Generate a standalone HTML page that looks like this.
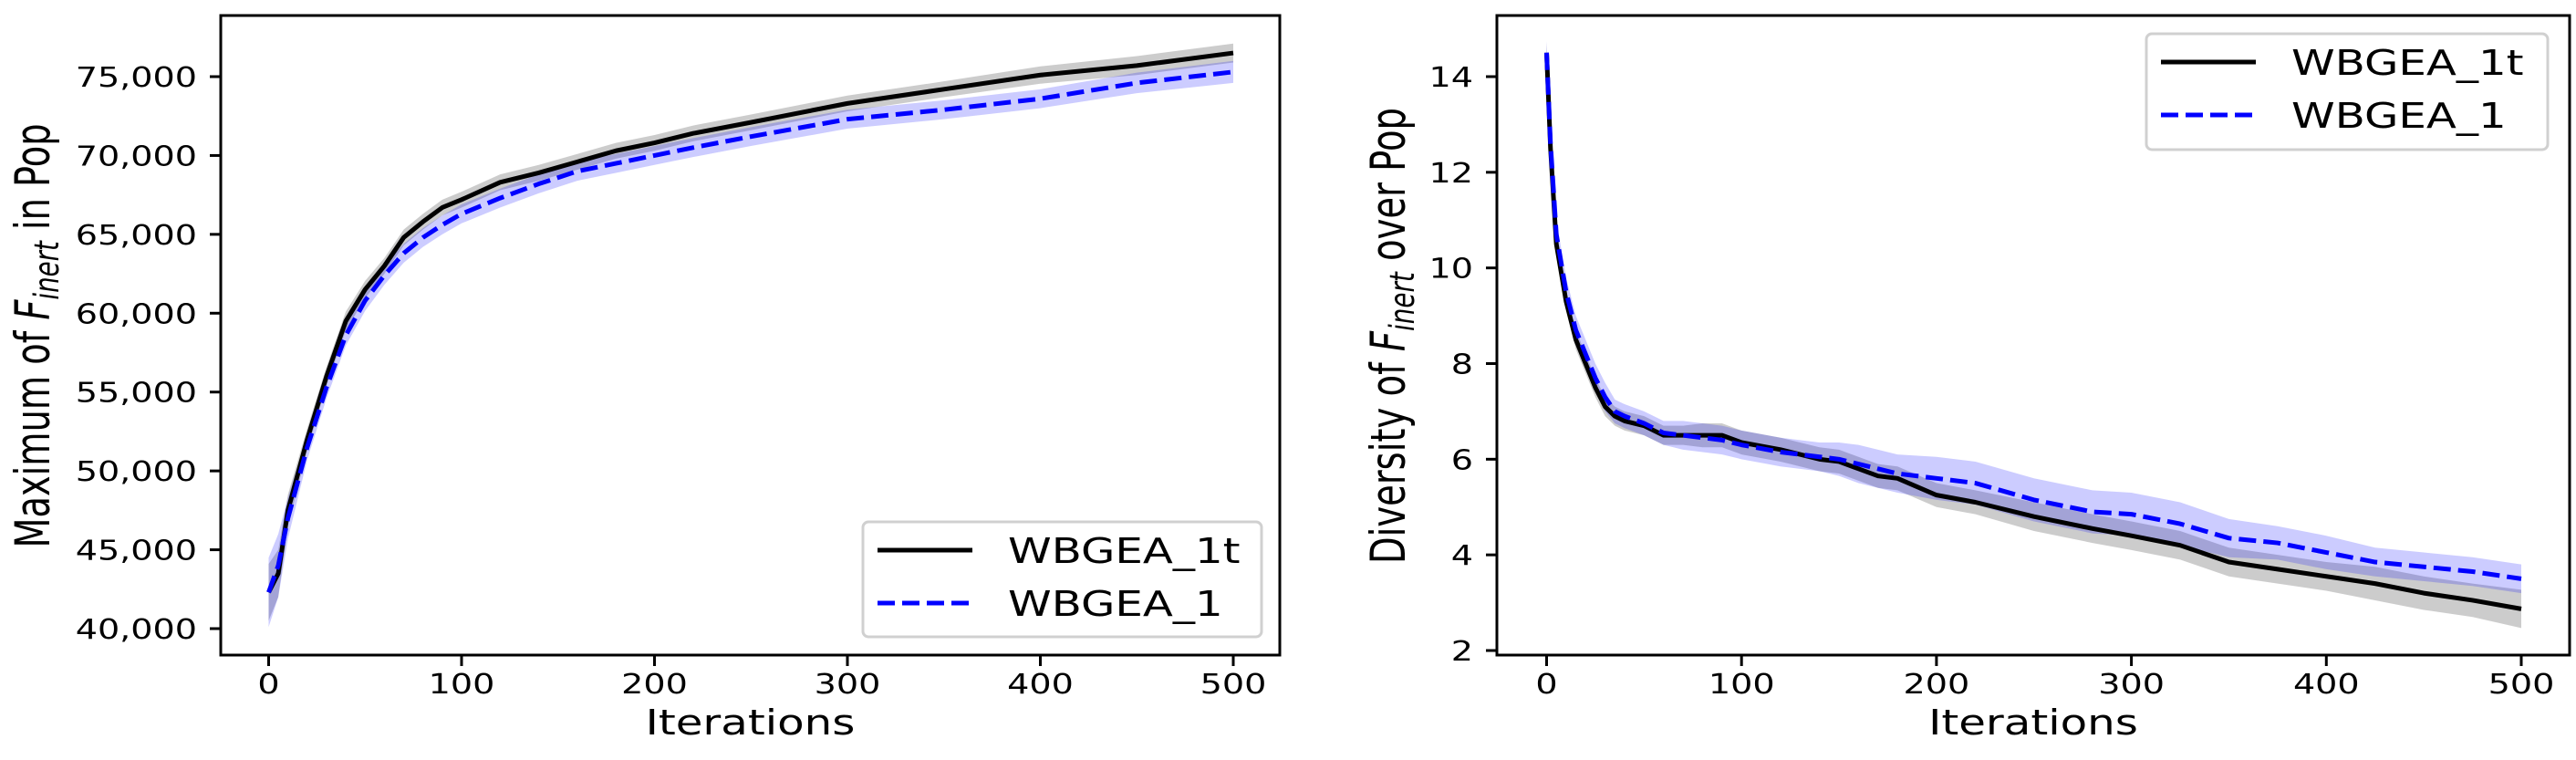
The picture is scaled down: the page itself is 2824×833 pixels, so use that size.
<!DOCTYPE html>
<html><head><meta charset="utf-8"><style>
html,body{margin:0;padding:0;background:#fff;}
svg{display:block;font-family:"DejaVu Sans","Liberation Sans",sans-serif;}
</style></head><body>
<svg id="root" width="2824" height="833" viewBox="0 0 2824 833">
<g id="left"></g>
<g id="right"></g>
</svg>
<script>
// ---- Left chart data ----
const itersL = [0,5,10,20,30,40,50,60,70,80,90,100,120,140,160,180,200,220,250,300,350,400,450,500];
const blackL = [42300,43500,47500,52000,56000,59500,61500,63000,64800,65800,66700,67200,68300,68900,69600,70300,70800,71400,72100,73300,74200,75100,75700,76500];
const blueL  = [42300,44000,47000,51500,55300,58600,60800,62400,63800,64800,65600,66300,67300,68200,69000,69500,70000,70500,71200,72300,72900,73600,74600,75300];
const blackSdL = [1800,1500,1000,700,600,600,550,500,500,500,500,500,500,500,500,500,500,500,500,500,500,550,600,600];
const blueSdL  = [2200,2000,1300,800,700,650,650,600,600,600,600,600,600,600,600,600,600,600,600,600,600,600,650,700];
const yTicksL = [40000,45000,50000,55000,60000,65000,70000,75000];
const xTicks = [0,100,200,300,400,500];
// ---- Right chart data ----
const itersR = [0,2,5,10,15,20,25,30,35,40,50,60,70,80,90,100,120,140,150,160,170,180,200,220,250,280,300,325,350,375,400,425,450,475,500];
const blackR = [14.5,12.5,10.5,9.3,8.5,8.0,7.5,7.1,6.9,6.8,6.7,6.5,6.5,6.5,6.5,6.35,6.2,6.0,5.95,5.8,5.65,5.6,5.25,5.1,4.8,4.55,4.4,4.2,3.85,3.7,3.55,3.4,3.2,3.05,2.87];
const blueR  = [14.5,12.6,10.7,9.5,8.7,8.2,7.7,7.3,7.0,6.9,6.75,6.55,6.5,6.45,6.4,6.3,6.15,6.05,6.0,5.9,5.8,5.7,5.6,5.5,5.15,4.9,4.85,4.65,4.35,4.25,4.05,3.85,3.75,3.65,3.5];
const blackSdR = [0.2,0.2,0.2,0.2,0.2,0.2,0.2,0.2,0.2,0.2,0.2,0.2,0.2,0.25,0.25,0.25,0.25,0.25,0.25,0.25,0.25,0.25,0.25,0.25,0.3,0.3,0.3,0.3,0.3,0.3,0.3,0.35,0.35,0.35,0.4];
const blueSdR  = [0.25,0.3,0.3,0.3,0.3,0.3,0.3,0.3,0.25,0.25,0.25,0.25,0.3,0.3,0.3,0.3,0.3,0.3,0.35,0.4,0.4,0.4,0.45,0.45,0.45,0.45,0.45,0.45,0.4,0.35,0.35,0.3,0.3,0.3,0.3];
const yTicksR = [2,4,6,8,10,12,14];

const NS='http://www.w3.org/2000/svg';
const SX=1.27;
function mk(parent,tag,attrs,text){const e=document.createElementNS(NS,tag);for(const k in attrs)e.setAttribute(k,attrs[k]);if(text!==undefined)e.textContent=text;parent.appendChild(e);return e;}
function stext(parent,x,y,anchor,size,str){
  return mk(parent,'text',{transform:`translate(${x},${y}) scale(${SX},1)`,x:0,y:0,'text-anchor':anchor,'font-size':size},str);
}

function chart(g,cfg){
  const sx=v=>cfg.x0+(v-0)*(cfg.x500-cfg.x0)/500;
  const sy=v=>cfg.yA+(v-cfg.vA)*(cfg.yB-cfg.yA)/(cfg.vB-cfg.vA);
  function band(xs,m,sd,fill,name){
    let d='';
    xs.forEach((x,i)=>{d+=(i?'L':'M')+sx(x)+','+sy(m[i]+sd[i]);});
    for(let i=xs.length-1;i>=0;i--)d+='L'+sx(xs[i])+','+sy(m[i]-sd[i]);
    const p=mk(g,'path',{d:d+'Z',fill:fill,'fill-opacity':0.2});
    
    
  }
  function line(xs,m,stroke,dash,name){
    const pts=xs.map((x,i)=>sx(x)+','+sy(m[i])).join(' ');
    const a={points:pts,fill:'none',stroke:stroke,'stroke-width':5,'stroke-linejoin':'round'};
    if(dash)a['stroke-dasharray']=dash;
    const p=mk(g,'polyline',a);
    
    
  }
  band(cfg.xs,cfg.black,cfg.bsd,'#000','black-band');
  band(cfg.xs,cfg.blue,cfg.usd,'#0000ff','blue-band');
  line(cfg.xs,cfg.black,'#000',null,'wbgea-1t-line');
  line(cfg.xs,cfg.blue,'#0000ff','19,8','wbgea-1-line');
  const fr=mk(g,'rect',{x:cfg.L,y:cfg.T,width:cfg.R-cfg.L,height:cfg.B-cfg.T,fill:'none',stroke:'#000','stroke-width':3});
  
  
  xTicks.forEach(t=>{
    mk(g,'line',{x1:sx(t),x2:sx(t),y1:cfg.B,y2:cfg.B+12,stroke:'#000','stroke-width':3});
    const tx=stext(g,sx(t),760,'middle',30,String(t));
    
    
  });
  cfg.yt.forEach(t=>{
    mk(g,'line',{x1:cfg.L-12,x2:cfg.L,y1:sy(t),y2:sy(t),stroke:'#000','stroke-width':3});
    const tx=stext(g,cfg.L-26,sy(t)+11,'end',30,cfg.fmt(t));
    
    
  });
  const xt=stext(g,(cfg.L+cfg.R)/2,805,'middle',38,'Iterations');
  
  
  const yt=mk(g,'text',{transform:`translate(${cfg.ylx},368) rotate(-90) scale(1,1.45)`,x:0,y:0,'text-anchor':'middle','font-size':36,textLength:cfg.ylen,lengthAdjust:'spacingAndGlyphs'});
  
  
  mk(yt,'tspan',{},cfg.yl1+' ');
  mk(yt,'tspan',{'font-style':'italic'},'F');
  mk(yt,'tspan',{'font-style':'italic','font-size':26,dy:7},'inert');
  mk(yt,'tspan',{dy:-7},' '+cfg.yl2);
  const lg=mk(g,'g',{});
  
  
  const b=cfg.leg;
  mk(lg,'rect',{x:b.x,y:b.y,width:b.w,height:b.h,rx:6,fill:'#fff','fill-opacity':0.8,stroke:'#d0d0d0','stroke-width':3});
  const e1=mk(lg,'g',{});
  
  
  mk(e1,'line',{x1:b.x+16,x2:b.x+120,y1:b.y+31,y2:b.y+31,stroke:'#000','stroke-width':5});
  stext(e1,b.x+159,b.y+45,'start',38,'WBGEA_1t');
  const e2=mk(lg,'g',{});
  
  
  mk(e2,'line',{x1:b.x+16,x2:b.x+120,y1:b.y+89,y2:b.y+89,stroke:'#0000ff','stroke-width':5,'stroke-dasharray':'19,8'});
  stext(e2,b.x+159,b.y+103,'start',38,'WBGEA_1');
}
chart(document.getElementById('left'),{
  xs:itersL,black:blackL,blue:blueL,bsd:blackSdL,usd:blueSdL,yt:yTicksL,
  L:242,R:1403,T:17,B:718,x0:294.5,x500:1352,yA:689,vA:40000,yB:84,vB:75000,
  fmt:t=>t.toLocaleString('en-US'),ylx:54,ylen:465,yl1:'Maximum of',yl2:'in Pop',
  leg:{x:946,y:572,w:437,h:126}
});
chart(document.getElementById('right'),{
  xs:itersR,black:blackR,blue:blueR,bsd:blackSdR,usd:blueSdR,yt:yTicksR,
  L:1641,R:2817,T:17,B:718,x0:1695.5,x500:2764,yA:713,vA:2,yB:84,vB:14,
  fmt:t=>String(t),ylx:1540,ylen:500,yl1:'Diversity of',yl2:'over Pop',
  leg:{x:2353,y:37,w:440,h:127}
});
</script>
</body></html>
